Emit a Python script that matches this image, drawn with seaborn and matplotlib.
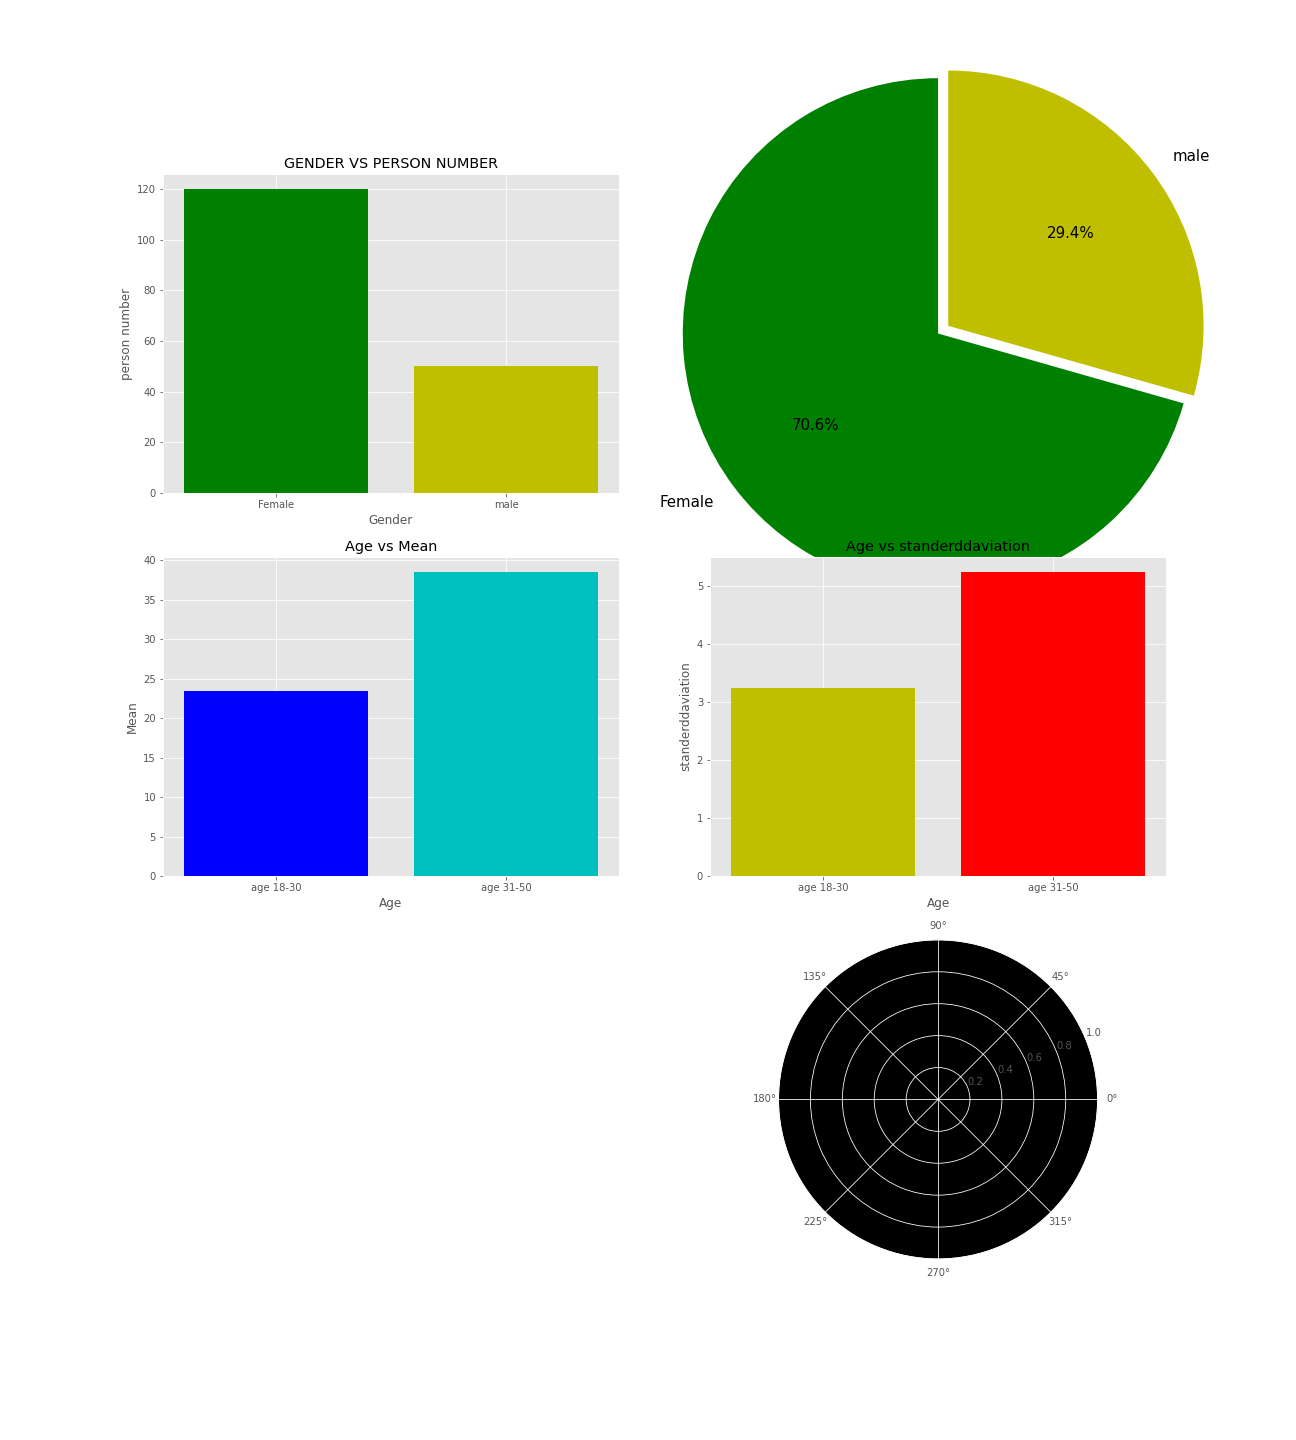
import matplotlib
matplotlib.use("Agg")
import matplotlib.pyplot as plt
import seaborn as sns
import pandas as pd

# ---- data ----
genders = ["Female", "male"]
gender_counts = [120, 50]
gender_colors = ["g", "y"]

age_groups = ["age 18-30", "age 31-50"]
age_means = [23.5, 38.5]
mean_colors = ["b", "c"]
age_stds = [3.24, 5.24]
std_colors = ["y", "r"]

plt.style.use("ggplot")

fig = plt.figure(figsize=(18, 20), dpi=72)
fig.subplots_adjust(left=0.1258, right=0.8997, top=0.8792, bottom=0.1257,
                    hspace=0.2, wspace=0.2)


def bar(ax, cats, vals, colors, title, xlabel, ylabel):
    df = pd.DataFrame({"cat": cats, "val": vals})
    sns.barplot(data=df, x="cat", y="val", hue="cat", palette=colors,
                saturation=1, legend=False, ax=ax, width=0.8)
    ax.set_xlim(-0.49, 1.49)
    ax.xaxis.grid(True)
    ax.yaxis.grid(True)
    ax.set_axisbelow(True)
    ax.set_title(title, fontsize=14.4)
    ax.set_xlabel(xlabel)
    ax.set_ylabel(ylabel)
    for p in ax.patches:
        p.set_edgecolor("none")


ax1 = fig.add_subplot(3, 2, 1)
bar(ax1, genders, gender_counts, gender_colors,
    "GENDER VS PERSON NUMBER", "Gender", "person number")

ax2 = fig.add_subplot(3, 2, 2)
ax2.pie(gender_counts, labels=genders, colors=gender_colors,
        explode=(0, 0.1), autopct="%1.1f%%", startangle=90, radius=2,
        textprops={"fontsize": 15})

ax3 = fig.add_subplot(3, 2, 3)
bar(ax3, age_groups, age_means, mean_colors, "Age vs Mean", "Age", "Mean")

ax4 = fig.add_subplot(3, 2, 4)
bar(ax4, age_groups, age_stds, std_colors,
    "Age vs standerddaviation", "Age", "standerddaviation")

ax6 = fig.add_subplot(3, 2, 6, projection="polar")
ax6.set_facecolor("black")

fig.savefig("out.png", dpi=72)
